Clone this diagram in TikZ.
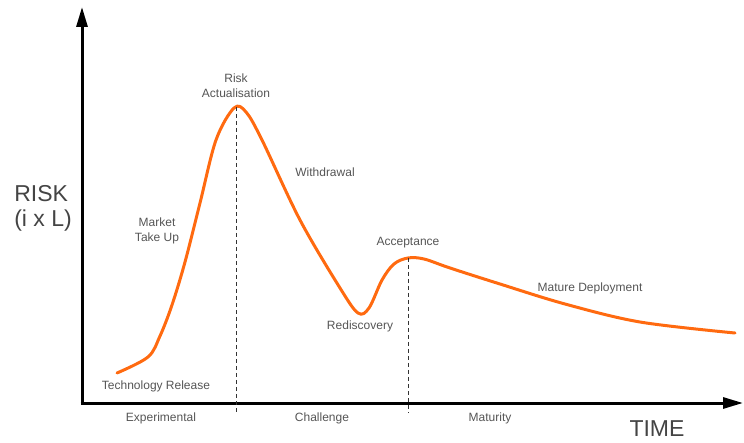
\documentclass[tikz,border=0pt]{standalone}
\usepackage{fontspec}
\setmainfont{Liberation Sans}
\usetikzlibrary{arrows.meta}
\definecolor{curveor}{HTML}{FF6A10}
\definecolor{lbl}{HTML}{555555}
\begin{document}
\begin{tikzpicture}[x=1pt,y=-1pt,
  axis/.style={line width=3pt,-{Triangle[length=20pt,width=11pt]}},
  lab/.style={text=lbl,font=\fontsize{12}{14}\selectfont,align=center,inner sep=0pt},
  big/.style={text=lbl!80!black,font=\fontsize{23}{25}\selectfont,align=left,inner sep=0pt},
  guide/.style={line width=0.7pt,dash pattern=on 4pt off 3pt,black!80}]
\useasboundingbox (0,0) rectangle (744,443);
\coordinate (Ytip) at (82,7);
\coordinate (Xtip) at (743,403);
\draw[axis] (82,404.5) -- (Ytip);
\draw[axis] (80.5,403) -- (Xtip);
% curve
\draw[curveor,line width=3pt,line cap=round,line join=round]
  plot[smooth,tension=0.55] coordinates {(117,373) (148,357) (160,336) (172,305) (185,262) (200,203) (216,140) (234,108) (246,112) (262,140) (300,220) (340,288) (358,313) (369,308) (382,280) (394,264) (408,258) (424,259) (450,268) (500,284) (565,304) (640,322) (735,333)};
\coordinate (P1) at (236,107);
\coordinate (P2) at (408,258);
\coordinate (B1) at (236,413);
\coordinate (B2) at (408,413);
\draw[guide] (P1) -- (B1);
\draw[guide] (P2) -- (B2);
% labels
\node[lab] (ra) at (236,86) {Risk\\[1pt]Actualisation};
\node[lab] (wd) at (325,172) {Withdrawal};
\node[lab] (mt) at (157,231) {Market\\[1pt]Take Up};
\node[lab] (ac) at (408,243) {Acceptance};
\node[lab] (rd) at (360,326) {Rediscovery};
\node[lab] (md) at (590,288) {Mature Deployment};
\node[lab] (tr) at (156,386) {Technology Release};
\node[lab] (ex) at (161,418) {Experimental};
\node[lab] (ch) at (322,418) {Challenge};
\node[lab] (mu) at (490,418) {Maturity};
\node[big] (rk) at (43,208) {RISK\\(i x L)};
\node[big] (tm) at (657,429) {TIME};
\end{tikzpicture}
\end{document}
